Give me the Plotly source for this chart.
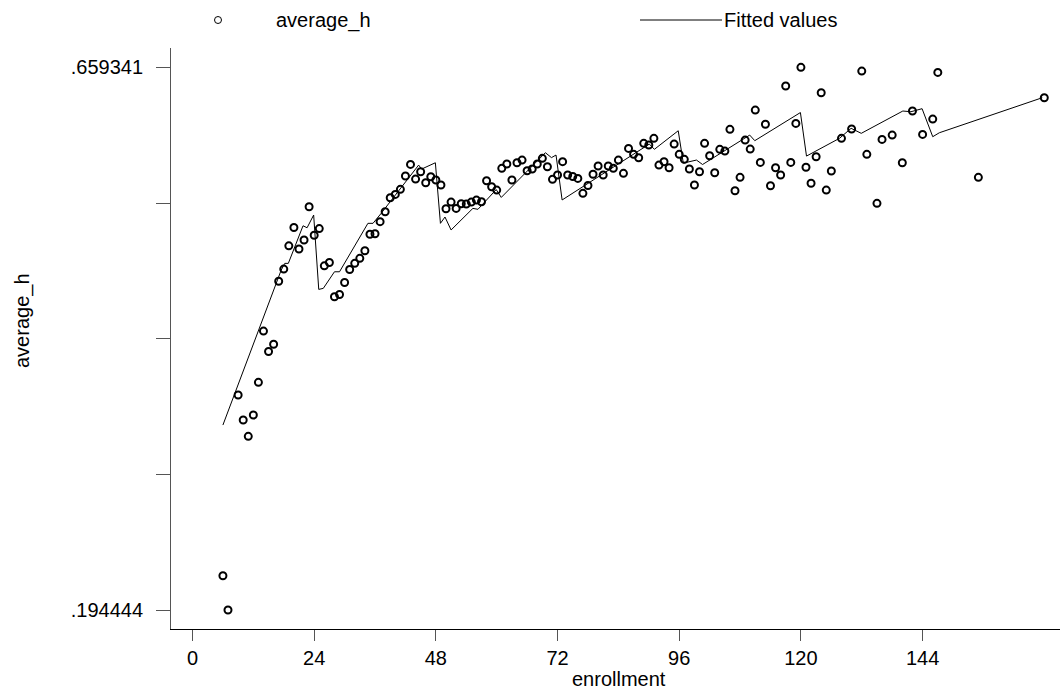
import plotly.graph_objects as go

# School-level observations: enrollment and average_h
enrollment = [
    6, 7, 9, 10, 11, 12, 13, 14, 15, 16, 17, 18, 19, 20, 21, 22, 23, 24, 25, 26,
    27, 28, 29, 30, 31, 32, 33, 34, 35, 36, 37, 38, 39, 40, 41, 42, 43, 44, 45, 46,
    47, 48, 49, 50, 51, 52, 53, 54, 55, 56, 57, 58, 59, 60, 61, 62, 63, 64, 65, 66,
    67, 68, 69, 70, 71, 72, 73, 74, 75, 76, 77, 78, 79, 80, 81, 82, 83, 84, 85, 86,
    87, 88, 89, 90, 91, 92, 93, 94, 95, 96, 97, 98, 99, 100, 101, 102, 103, 104, 105, 106,
    107, 108, 109, 110, 111, 112, 113, 114, 115, 116, 117, 118, 119, 120, 121, 122, 123, 124, 125, 126,
    128, 130, 132, 133, 135, 136, 138, 140, 142, 144, 146, 147, 155, 168,
]
average_h = [
    0.2238, 0.194444, 0.3786, 0.3572, 0.3432, 0.3615, 0.3895, 0.4334, 0.4159, 0.4221,
    0.4761, 0.4865, 0.5064, 0.5221, 0.5037, 0.5114, 0.5399, 0.5155, 0.5212, 0.4893,
    0.4921, 0.4628, 0.4647, 0.4750, 0.4861, 0.4914, 0.4957, 0.5022, 0.5163, 0.5168,
    0.5271, 0.5356, 0.5476, 0.5505, 0.5548, 0.5662, 0.5762, 0.5636, 0.5699, 0.5605,
    0.5656, 0.5628, 0.5585, 0.5382, 0.5439, 0.5385, 0.5425, 0.5422, 0.5439, 0.5456,
    0.5442, 0.5622, 0.5570, 0.5542, 0.5728, 0.5765, 0.5628, 0.5776, 0.5799, 0.5707,
    0.5722, 0.5765, 0.5814, 0.5742, 0.5634, 0.5671, 0.5785, 0.5671, 0.5658, 0.5642,
    0.5514, 0.5581, 0.5677, 0.5748, 0.5671, 0.5748, 0.5728, 0.5799, 0.5685, 0.5899,
    0.5848, 0.5819, 0.5942, 0.5928, 0.5985, 0.5756, 0.5785, 0.5733, 0.5936, 0.5848,
    0.5805, 0.5722, 0.5585, 0.5699, 0.5942, 0.5836, 0.5690, 0.5891, 0.5876, 0.6062,
    0.5536, 0.5651, 0.5970, 0.5893, 0.6227, 0.5779, 0.6106, 0.5579, 0.5733, 0.5671,
    0.6433, 0.5779, 0.6113, 0.659341, 0.5737, 0.5600, 0.5827, 0.6376, 0.5542, 0.5705,
    0.5985, 0.6065, 0.6561, 0.5848, 0.5428, 0.5976, 0.6013, 0.5776, 0.6219, 0.6019,
    0.6150, 0.6550, 0.5651, 0.6333,
]

# Fitted values (vertices of the fitted line, sorted by enrollment)
fitted_x = [
    6.0, 16.5, 17.5, 18.2, 18.9, 21.8, 22.6, 23.9, 24.9, 25.8,
    28.0, 29.0, 34.6, 35.6, 37.2, 44.6, 45.2, 47.9, 48.9, 49.8,
    51.0, 55.3, 56.3, 59.9, 60.9, 69.6, 70.8, 71.7, 72.9, 90.1,
    91.1, 95.8, 96.8, 99.4, 100.6, 109.9, 110.9, 119.9, 121.1, 127.6,
    129.9, 131.9, 140.1, 141.7, 143.9, 146.0, 147.3, 167.6,
]
fitted_y = [
    0.3529, 0.4751, 0.4857, 0.4914, 0.4914, 0.5236, 0.5219, 0.5328, 0.4691, 0.4700,
    0.4842, 0.4842, 0.5257, 0.5257, 0.5342, 0.5756, 0.5722, 0.5776, 0.5257, 0.5311,
    0.5200, 0.5385, 0.5377, 0.5546, 0.5479, 0.5862, 0.5820, 0.5842, 0.5457, 0.5936,
    0.5891, 0.6050, 0.5773, 0.5799, 0.5761, 0.6013, 0.5965, 0.6206, 0.5833, 0.5985,
    0.6071, 0.6028, 0.6219, 0.6213, 0.6239, 0.5999, 0.6033, 0.6333,
]

x_ticks = [0, 24, 48, 72, 96, 120, 144]
y_min, y_max = 0.194444, 0.659341
y_ticks = [y_min + i * (y_max - y_min) / 4 for i in range(5)]
y_ticktext = [".194444", "", "", "", ".659341"]

FONT = "Liberation Sans, Arial, sans-serif"

fig = go.Figure()
fig.add_trace(go.Scatter(
    x=fitted_x, y=fitted_y, mode="lines",
    line=dict(color="black", width=1),
    name="Fitted values", showlegend=False, hoverinfo="skip",
))
fig.add_trace(go.Scatter(
    x=enrollment, y=average_h, mode="markers",
    marker=dict(symbol="circle-open", size=7, color="black",
                line=dict(color="black", width=2)),
    name="average_h", showlegend=False,
))

W, H = 1060, 692
L, R, T, B = 171, 0, 48, 63
pw, ph = W - L - R, H - T - B


def px_x(px):
    return (px - L) / pw


def px_y(py):
    return (H - B - py) / ph


fig.update_layout(
    width=W, height=H,
    margin=dict(l=L, r=R, t=T, b=B),
    paper_bgcolor="white", plot_bgcolor="white",
    font=dict(family=FONT, size=20, color="black"),
    xaxis=dict(
        range=[-4.24, 171.1], tickmode="array", tickvals=x_ticks,
        ticks="outside", ticklen=11, tickcolor="#555", tickwidth=1,
        showline=True, linecolor="black", linewidth=1,
        showgrid=False, zeroline=False,
        tickfont=dict(family=FONT, size=20, color="black"),
    ),
    yaxis=dict(
        range=[0.17817, 0.67590], tickmode="array", tickvals=y_ticks,
        ticktext=y_ticktext,
        ticks="outside", ticklen=14, tickcolor="#555", tickwidth=1,
        showline=True, linecolor="#555", linewidth=1,
        showgrid=False, zeroline=False, ticklabelstandoff=9,
        tickfont=dict(family=FONT, size=20, color="black"),
    ),
    showlegend=False,
)

# Axis titles
fig.add_annotation(text="average_h", xref="paper", yref="paper",
                   x=px_x(22), y=px_y(321), textangle=-90, showarrow=False,
                   font=dict(family=FONT, size=20), xanchor="center", yanchor="middle")
fig.add_annotation(text="enrollment", xref="paper", yref="paper",
                   x=px_x(619), y=px_y(679), showarrow=False,
                   font=dict(family=FONT, size=20), xanchor="center", yanchor="middle")

# Legend row across the top
fig.add_shape(type="circle", xref="paper", yref="paper",
              xsizemode="pixel", ysizemode="pixel",
              xanchor=px_x(218), yanchor=px_y(20),
              x0=-3.5, x1=3.5, y0=-3.5, y1=3.5,
              line=dict(color="black", width=1))
fig.add_annotation(text="average_h", xref="paper", yref="paper",
                   x=px_x(274), y=px_y(20), showarrow=False,
                   font=dict(family=FONT, size=20), xanchor="left", yanchor="middle")
fig.add_shape(type="line", xref="paper", yref="paper",
              x0=px_x(640), x1=px_x(722), y0=px_y(20), y1=px_y(20),
              line=dict(color="black", width=1))
fig.add_annotation(text="Fitted values", xref="paper", yref="paper",
                   x=px_x(722), y=px_y(20), showarrow=False,
                   font=dict(family=FONT, size=20), xanchor="left", yanchor="middle")

fig.write_html("out.html")
